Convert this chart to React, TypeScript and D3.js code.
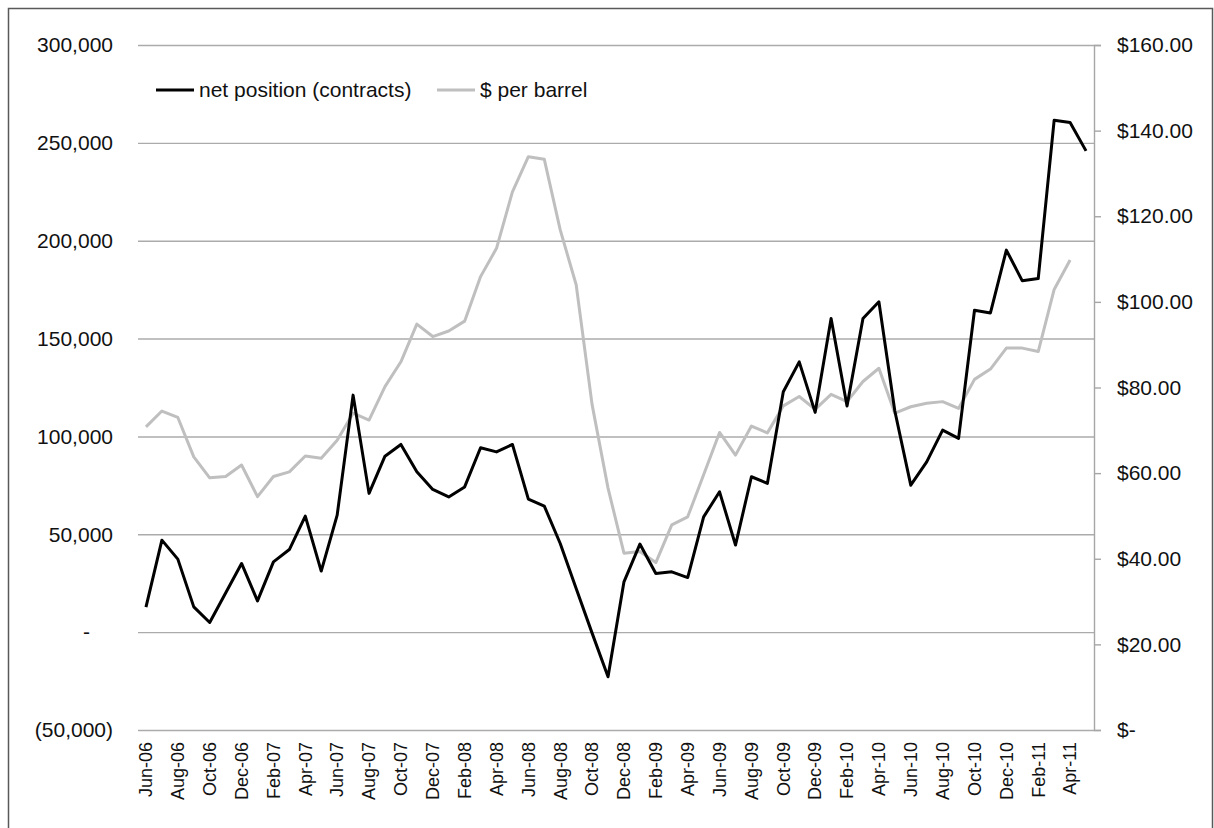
import React, { useRef, useEffect } from 'react';
import * as d3 from 'd3';

const months = [
  'Jun-06', 'Jul-06', 'Aug-06', 'Sep-06', 'Oct-06', 'Nov-06', 'Dec-06', 'Jan-07', 'Feb-07', 'Mar-07',
  'Apr-07', 'May-07', 'Jun-07', 'Jul-07', 'Aug-07', 'Sep-07', 'Oct-07', 'Nov-07', 'Dec-07', 'Jan-08',
  'Feb-08', 'Mar-08', 'Apr-08', 'May-08', 'Jun-08', 'Jul-08', 'Aug-08', 'Sep-08', 'Oct-08', 'Nov-08',
  'Dec-08', 'Jan-09', 'Feb-09', 'Mar-09', 'Apr-09', 'May-09', 'Jun-09', 'Jul-09', 'Aug-09', 'Sep-09',
  'Oct-09', 'Nov-09', 'Dec-09', 'Jan-10', 'Feb-10', 'Mar-10', 'Apr-10', 'May-10', 'Jun-10', 'Jul-10',
  'Aug-10', 'Sep-10', 'Oct-10', 'Nov-10', 'Dec-10', 'Jan-11', 'Feb-11', 'Mar-11', 'Apr-11', 'May-11',
];

// net position (contracts), one per month
const netPosition = [
  12800, 47000, 37300, 12900, 4950, 20000, 35100, 16000, 35900, 42200,
  59300, 31200, 59800, 121100, 70900, 89900, 95900, 81900, 72900, 69100,
  74200, 94200, 92100, 95900, 68000, 64400, 45300, 22300, -500, -22800,
  25700, 45000, 30000, 30800, 27900, 58900, 71700, 44500, 79400, 76000,
  122800, 138100, 112300, 160300, 115500, 160300, 168800, 113000, 75100, 87000,
  103200, 99000, 164500, 163100, 195200, 179500, 180700, 261600, 260400, 245900,
];

// $ per barrel (no value for the last month)
const pricePerBarrel = [
  70.8, 74.5, 73.0, 63.8, 58.9, 59.2, 61.9, 54.5, 59.2, 60.3,
  64.0, 63.5, 67.7, 74.0, 72.4, 80.2, 86.0, 94.8, 91.9, 93.2,
  95.5, 105.9, 112.5, 125.7, 133.9, 133.3, 116.8, 104.0, 76.0, 56.5,
  41.3, 41.7, 39.1, 47.9, 49.8, 59.6, 69.5, 64.2, 71.0, 69.4,
  75.7, 77.9, 74.9, 78.4, 76.7, 81.4, 84.5, 74.0, 75.5, 76.3,
  76.7, 75.1, 81.9, 84.3, 89.2, 89.2, 88.4, 102.9, 109.8,
];

const leftTicks = [-50000, 0, 50000, 100000, 150000, 200000, 250000, 300000];
const rightTicks = [0, 20, 40, 60, 80, 100, 120, 140, 160];

const FONT = "'Liberation Sans', Arial, sans-serif";

const App: React.FC = () => {
  const svgRef = useRef<SVGSVGElement>(null);

  useEffect(() => {
    const svg = d3.select(svgRef.current);
    svg.selectAll('*').remove();

    const left = 138, right = 1094, top = 45, bottom = 730;

    const x = d3.scalePoint<string>().domain(months).range([left, right]).padding(0.5);
    const yLeft = d3.scaleLinear().domain([-50000, 300000]).range([bottom, top]);
    const yRight = d3.scaleLinear().domain([0, 160]).range([bottom, top]);

    // chart border
    svg.append('rect')
      .attr('x', 8.5).attr('y', 8.5)
      .attr('width', 1204).attr('height', 840)
      .attr('fill', 'none')
      .attr('stroke', '#595959')
      .attr('stroke-width', 1.5);

    // gridlines + left labels
    const gl = svg.append('g')
      .attr('transform', `translate(${left},0)`)
      .call(d3.axisLeft(yLeft)
        .tickValues(leftTicks)
        .tickSize(-(right - left))
        .tickPadding(25)
        .tickFormat(d => {
          const v = d as number;
          if (v === 0) return '-';
          if (v < 0) return `(${d3.format(',')(-v)})`;
          return d3.format(',')(v);
        }));
    gl.select('.domain').remove();
    gl.selectAll('.tick line').attr('stroke', '#ABABAB').attr('stroke-width', 1.4);
    gl.selectAll('.tick text')
      .style('font-family', FONT)
      .style('font-size', '21px')
      .attr('fill', '#111')
      .attr('dx', (d: any) => (d === 0 ? -23 : 0));

    // right axis
    const gr = svg.append('g')
      .attr('transform', `translate(${right},0)`)
      .call(d3.axisRight(yRight)
        .tickValues(rightTicks)
        .tickSize(7)
        .tickPadding(16)
        .tickFormat(d => ((d as number) === 0 ? '$-' : `$${(d as number).toFixed(2)}`)));
    gr.select('.domain').attr('stroke', '#A6A6A6').attr('stroke-width', 1.4);
    gr.selectAll('.tick line').attr('stroke', '#A6A6A6').attr('stroke-width', 1.4);
    gr.selectAll('.tick text')
      .style('font-family', FONT)
      .style('font-size', '21px')
      .attr('fill', '#111');

    // x labels, every second month
    svg.append('g')
      .selectAll('text')
      .data(months.filter((_, i) => i % 2 === 0))
      .enter().append('text')
      .attr('transform', d => `translate(${x(d)},742) rotate(-90)`)
      .attr('text-anchor', 'end')
      .attr('dy', '0.35em')
      .style('font-family', FONT)
      .style('font-size', '18px')
      .attr('fill', '#111')
      .text(d => d);

    // price line
    const priceLine = d3.line<number>()
      .x((_, i) => x(months[i]) as number)
      .y(d => yRight(d));
    svg.append('path')
      .datum(pricePerBarrel)
      .attr('fill', 'none')
      .attr('stroke', '#BFBFBF')
      .attr('stroke-width', 3)
      .attr('stroke-linejoin', 'round')
      .attr('d', priceLine);

    // net position line
    const netLine = d3.line<number>()
      .x((_, i) => x(months[i]) as number)
      .y(d => yLeft(d));
    svg.append('path')
      .datum(netPosition)
      .attr('fill', 'none')
      .attr('stroke', '#000')
      .attr('stroke-width', 3)
      .attr('stroke-linejoin', 'round')
      .attr('d', netLine);

    // legend
    const legend = svg.append('g').attr('transform', 'translate(156,90)');
    legend.append('line')
      .attr('x1', 0).attr('x2', 38).attr('y1', 0).attr('y2', 0)
      .attr('stroke', '#000').attr('stroke-width', 3);
    legend.append('text')
      .attr('x', 43).attr('dy', '0.35em')
      .style('font-family', FONT).style('font-size', '21px')
      .attr('fill', '#111')
      .text('net position (contracts)');
    legend.append('line')
      .attr('x1', 281).attr('x2', 319).attr('y1', 0).attr('y2', 0)
      .attr('stroke', '#BFBFBF').attr('stroke-width', 3);
    legend.append('text')
      .attr('x', 324).attr('dy', '0.35em')
      .style('font-family', FONT).style('font-size', '21px')
      .attr('fill', '#111')
      .text('$ per barrel');
  }, []);

  return (
    <>
      <style>{'body{margin:0;background:#fff;}'}</style>
      <svg ref={svgRef} width={1214} height={828} style={{ display: 'block' }} />
    </>
  );
};

export default App;
